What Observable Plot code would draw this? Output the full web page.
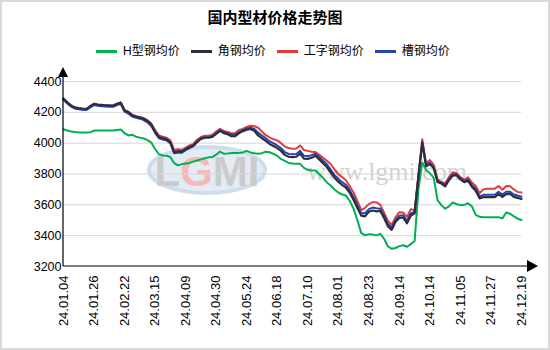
<!DOCTYPE html>
<html><head><meta charset="utf-8">
<script src="https://cdn.jsdelivr.net/npm/d3@7"></script>
<script src="https://cdn.jsdelivr.net/npm/@observablehq/plot@0.6"></script>
<style>
body{margin:0;background:#fff;}
#wrap{position:relative;width:550px;height:350px;overflow:hidden;background:#fff;font-family:"Liberation Sans",Arial,"Noto Sans CJK SC",sans-serif;}
#border{position:absolute;left:0;top:0;width:550px;height:350px;box-sizing:border-box;border:2px solid #dadada;pointer-events:none;z-index:5}
#title{position:absolute;top:7px;left:0;width:550px;text-align:center;font-size:15px;font-weight:bold;line-height:20px;font-family:"Noto Sans CJK SC",sans-serif;color:#000}
#legend{position:absolute;top:42px;left:96px;display:flex;align-items:center;font-size:12px;line-height:18px;font-family:"Liberation Sans","Noto Sans CJK SC",sans-serif;color:#000}
.item{display:flex;align-items:center;margin-right:11px}
.sw{width:21px;height:3px;margin-right:6px}
#wm{position:absolute;left:0;top:0;z-index:0}
#chart{position:absolute;top:60px;left:0;z-index:1}
</style></head>
<body>
<div id="wrap">
  <svg id="wm" width="550" height="350">
    <ellipse cx="207" cy="170" rx="58" ry="23" fill="#e3ebf4" stroke="#cfdcec" stroke-width="4"/>
    <text x="207" y="186" text-anchor="middle" font-family="Liberation Sans" font-weight="bold" font-size="42" fill="#cbcbcb">L<tspan fill="#f4b9b9">G</tspan>MI</text>
    <text x="307" y="180" font-family="Liberation Serif" font-size="26" fill="#d2d2d2">www.lgmi.com</text>
  </svg>
  <div id="title">国内型材价格走势图</div>
  <div id="legend"></div>
  <div id="chart"></div>
  <div id="border"></div>
</div>
<script>
// tick labels (one every 8 samples)
const xLabels = ["24.01.04","24.01.26","24.02.22","24.03.15","24.04.09","24.04.30","24.05.24","24.06.18","24.07.10","24.08.01","24.08.23","24.09.14","24.10.14","24.11.05","24.11.27","24.12.19"];
const STEP = 8;
const yTicks = [3200,3400,3600,3800,4000,4200,4400];
const seriesNames = ["H型钢均价","角钢均价","工字钢均价","槽钢均价"];
const seriesColors = ["#00b050","#2e2e3a","#e03c3c","#1f45b0"];

// H型钢均价
const hBeam = [4090,4082,4076,4072,4070,4070,4069,4070,4082,4082,4082,4082,4082,4082,4086,4088,4065,4050,4054,4042,
4036,4030,4020,4004,3962,3928,3920,3918,3910,3870,3856,3864,3868,3872,3880,3888,3895,3902,3908,3910,
3925,3945,3932,3933,3936,3937,3937,3940,3950,3940,3935,3932,3935,3945,3941,3930,3918,3896,3885,3872,
3868,3866,3866,3840,3826,3823,3823,3800,3775,3745,3725,3700,3680,3667,3660,3625,3575,3500,3418,3402,
3410,3408,3402,3412,3380,3330,3315,3320,3332,3338,3328,3345,3365,3700,3875,3825,3805,3775,3630,3598,
3575,3590,3615,3605,3597,3600,3610,3590,3535,3522,3520,3520,3520,3520,3520,3512,3550,3542,3525,3510,3502];
// 角钢均价
const angle = [4290,4265,4245,4232,4228,4225,4223,4240,4255,4250,4248,4246,4245,4244,4255,4262,4212,4200,4180,4172,
4167,4158,4143,4120,4075,4040,4032,4025,4006,3940,3948,3945,3962,3975,3985,4010,4028,4035,4035,4040,
4060,4080,4065,4058,4045,4045,4065,4078,4087,4092,4080,4050,4032,4015,3995,3982,3968,3950,3924,3912,
3909,3912,3932,3900,3898,3905,3918,3895,3870,3845,3810,3776,3750,3730,3712,3678,3632,3580,3530,3525,
3555,3563,3558,3560,3515,3460,3438,3490,3515,3518,3480,3530,3545,3780,4000,3850,3865,3838,3748,3738,
3720,3760,3790,3792,3765,3747,3755,3718,3692,3642,3650,3650,3650,3650,3670,3652,3670,3671,3652,3645,3638];
// 工字钢均价
const iBeam = [4285,4260,4240,4228,4222,4220,4218,4240,4255,4250,4246,4244,4242,4242,4255,4265,4215,4205,4185,4175,
4170,4163,4150,4128,4085,4050,4042,4035,4018,3955,3960,3955,3970,3985,3995,4022,4040,4048,4048,4055,
4075,4093,4080,4072,4065,4065,4085,4093,4105,4113,4110,4100,4075,4052,4038,4025,4018,4000,3978,3968,
3963,3965,3985,3955,3950,3945,3942,3925,3905,3885,3865,3830,3800,3780,3760,3720,3680,3625,3565,3580,
3605,3617,3617,3600,3550,3495,3470,3520,3552,3550,3522,3572,3565,3800,4025,3870,3890,3860,3765,3748,
3740,3780,3812,3805,3780,3762,3778,3745,3722,3675,3700,3705,3705,3705,3722,3698,3722,3720,3700,3683,3680];
// 槽钢均价
const channel = [4282,4257,4237,4224,4220,4217,4215,4232,4247,4242,4240,4238,4237,4236,4247,4254,4204,4192,4172,4164,
4159,4150,4135,4112,4067,4032,4024,4017,3998,3934,3940,3938,3955,3968,3980,4006,4030,4038,4040,4045,
4066,4085,4072,4065,4055,4055,4072,4085,4095,4100,4092,4068,4050,4032,4012,4000,3985,3968,3942,3930,
3928,3930,3950,3918,3916,3922,3932,3910,3886,3862,3828,3793,3768,3748,3730,3695,3650,3598,3545,3545,
3572,3582,3578,3575,3530,3475,3452,3502,3530,3532,3495,3545,3555,3788,4010,3858,3872,3845,3755,3745,
3728,3768,3798,3798,3772,3754,3765,3728,3704,3655,3665,3665,3665,3665,3685,3667,3685,3685,3667,3660,3652];

// legend
const leg = document.getElementById("legend");
seriesNames.forEach((n,i)=>{
  const it=document.createElement("div");it.className="item";
  const sw=document.createElement("div");sw.className="sw";sw.style.background=seriesColors[i];
  const t=document.createElement("span");t.textContent=n;
  it.appendChild(sw);it.appendChild(t);leg.appendChild(it);
});

const nPts = (xLabels.length-1)*STEP;
const tickIdx = xLabels.map((_,i)=>i*STEP);
const lineMark = (arr, color, w) => Plot.line(arr, {x:(d,i)=>i, y:d=>d, stroke:color, strokeWidth:w, curve:"linear"});

const chart = Plot.plot({
  width:550, height:290,
  marginTop:21, marginBottom:84, marginLeft:63, marginRight:29,
  x:{type:"linear", domain:[0,nPts]},
  y:{domain:[3200,4400]},
  style:{fontFamily:"'Liberation Sans', Arial, sans-serif", fontSize:"12px", color:"#000", background:"transparent", overflow:"visible"},
  marks:[
    Plot.gridY(yTicks.filter(v=>v>3200), {stroke:"#d6d6d6", strokeOpacity:1}),
    Plot.axisY(yTicks, {tickSize:0, tickPadding:2, label:null, fontSize:12.5, tickFormat:d=>String(d)}),
    Plot.axisX(tickIdx, {tickSize:0, tickPadding:9, tickRotate:-90, tickFormat:d=>xLabels[Math.round(d/STEP)], label:null, fontSize:13}),
    lineMark(hBeam, seriesColors[0], 2),
    lineMark(iBeam, seriesColors[2], 2),
    lineMark(channel, seriesColors[3], 2),
    lineMark(angle, seriesColors[1], 2.2)
  ]
});
document.getElementById("chart").appendChild(chart);

// axis lines with arrowheads, positioned through the plot's scales
const X = chart.scale("x"), Y = chart.scale("y");
const svg = d3.select(chart);
const ax0 = X.apply(0), axEnd = X.apply(nPts), ay0 = Y.apply(3200), ayTop = Y.apply(4400);
const g = svg.append("g");
g.append("line").attr("x1",ax0).attr("x2",ax0).attr("y1",ay0).attr("y2",ayTop-4).attr("stroke","#000").attr("stroke-width",1.2);
g.append("line").attr("x1",ax0).attr("x2",axEnd+6).attr("y1",ay0).attr("y2",ay0).attr("stroke","#000").attr("stroke-width",1.2);
g.append("path").attr("d",`M${ax0-5},${ayTop-4}L${ax0+5},${ayTop-4}L${ax0},${ayTop-14}Z`).attr("fill","#000");
g.append("path").attr("d",`M${axEnd+6},${ay0-6}L${axEnd+6},${ay0+6}L${axEnd+17},${ay0}Z`).attr("fill","#000");
</script>
</body></html>
